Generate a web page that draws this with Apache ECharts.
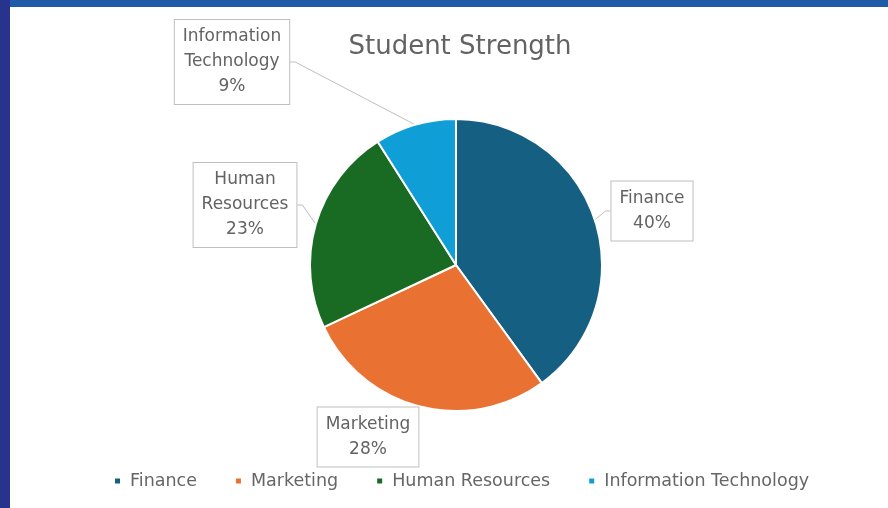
<!DOCTYPE html>
<html>
<head>
<meta charset="utf-8">
<script src="https://cdn.jsdelivr.net/npm/echarts@6/dist/echarts.min.js"></script>
<style>
html,body{margin:0;padding:0;background:#fff;}
#c{width:888px;height:508px;}
</style>
</head>
<body>
<div id="c"></div>
<script>
const categories = ['Finance', 'Marketing', 'Human Resources', 'Information Technology'];
const values = [40, 28, 23, 9];
const colors = ['#156082', '#E97132', '#196B24', '#0F9ED5'];
const labelCenters = [[652, 211], [368, 437], [245, 205], [232, 62]];
const showLeader = [true, false, true, true];

const FONT = 'DejaVu Sans';
const chart = echarts.init(document.getElementById('c'));
chart.setOption({
  backgroundColor: '#ffffff',
  animation: false,
  color: colors,
  title: {
    text: 'Student Strength',
    left: 455, top: 29, textAlign: 'center',
    textStyle: {fontFamily: FONT, fontWeight: 'normal', fontSize: 26, color: '#636363'}
  },
  legend: {
    data: categories,
    top: 467, left: 108,
    icon: 'rect', itemWidth: 7, itemHeight: 7, itemGap: 37,
    textStyle: {fontFamily: FONT, fontSize: 17.5, color: '#666666', padding: [0, 0, 0, 4]}
  },
  graphic: [
    {type: 'rect', shape: {x: 0, y: 0, width: 888, height: 7}, style: {fill: '#1d5ba6'}, z: 100},
    {type: 'rect', shape: {x: 0, y: 0, width: 10, height: 508}, style: {fill: '#27338c'}, z: 101}
  ],
  series: [{
    type: 'pie',
    center: [456, 265],
    radius: ['0%', 146],
    startAngle: 90,
    clockwise: true,
    itemStyle: {borderColor: '#ffffff', borderWidth: 2},
    data: categories.map((n, i) => ({name: n, value: values[i], labelLine: {show: showLeader[i]}})),
    label: {
      show: true,
      position: 'outside',
      formatter: p => p.name.replace(' ', '\n') + '\n' + p.value + '%',
      fontFamily: FONT, fontSize: 17, lineHeight: 25, color: '#636363',
      align: 'center',
      backgroundColor: '#ffffff', borderColor: '#bfbfbf', borderWidth: 1,
      padding: [5, 8, 4, 8]
    },
    labelLine: {show: true, length: 5, length2: 5, lineStyle: {color: '#bfbfbf', width: 1}},
    labelLayout: function (p) {
      const c = labelCenters[p.dataIndex];
      return {x: c[0], y: c[1], align: 'center', verticalAlign: 'middle'};
    },
    emphasis: {disabled: true}
  }]
});
</script>
</body>
</html>
